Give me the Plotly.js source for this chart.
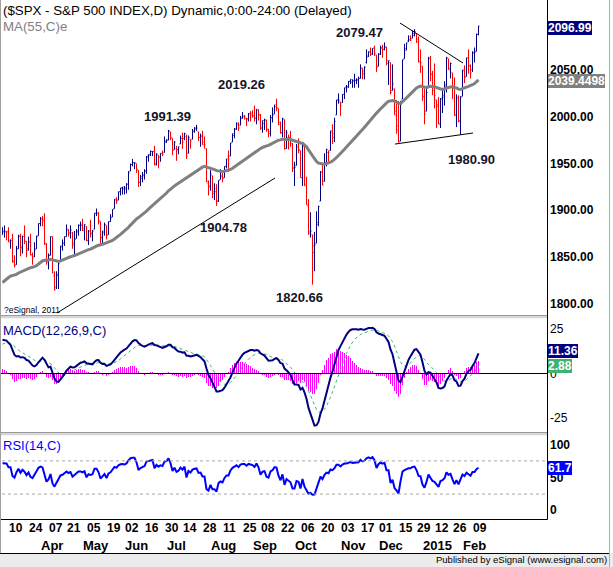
<!DOCTYPE html>
<html><head><meta charset="utf-8">
<script src="https://cdn.plot.ly/plotly-3.0.1.min.js"></script>
<style>html,body{margin:0;padding:0;background:#fff}#chart{width:613px;height:567px}</style>
</head><body><div id="chart"></div>
<script>
// ---- Daily OHLC, $SPX, 6 Mar 2014 .. 13 Feb 2015 (one value per trading day) ----
const open = [
1874,1878,1877,1878,1866,1870,1845,1842,1859,1873,1860,1874,1867,1859,1867,1852,1851,1859,
1873,1886,1891,1891,1864,1845,1852,1872,1830,1818,1831,1846,1861,1865,1872,1879,1876,1876,1865,1870,1877,
1884,1885,1879,1883,1868,1878,1875,1880,1897,1897,1888,1871,1876,1884,1874,1888,1893,1902,1911,1911,1920,
1924,1923,1923,1928,1942,1949,1951,1950,1943,1930,1934,1937,1942,1958,1960,1963,1963,1949,1959,1957,1961,
1962,1974,1975,1984,1977,1965,1966,1965,1971,1977,1977,1979,1961,1976,1976,1985,1988,1984,1978,1980,1973,1966,
1929,1926,1937,1918,1923,1910,1933,1936,1935,1947,1958,1958,1973,1980,1987,1993,1991,1999,2001,1998,1998,
2004,2004,2001,1999,2007,2002,1988,1993,1996,1987,1982,1999,2003,2013,2009,1992,1983,1997,1966,1978,1978,
1971,1945,1948,1971,1964,1935,1968,1926,1905,1877,1874,1855,1865,1885,1910,1941,1931,1951,1962,1964,1983,1978,2002,
2018,2016,2015,2024,2032,2032,2038,2037,2039,2039,2039,2041,2052,2046,2058,2065,2070,2067,2074,
2066,2054,2067,2073,2072,2074,2057,2058,2028,2030,2006,1986,1974,2019,2062,2073,2081,2083,2084,2087,2089,2083,
2059,2054,2022,2006,2031,2063,2046,2031,2018,2013,1992,2020,2021,2034,2062,2050,2047,2032,2002,2019,
1996,2022,2049,2043,2063,2054,2050,2068,2070,2088];
const high = [
1882,1884,1878,1882,1869,1875,1852,1862,1874,1875,1873,1884,1867,1872,1875,1855,1866,1873,
1886,1893,1894,1897,1865,1854,1872,1872,1835,1835,1844,1862,1869,1872,1885,1880,1884,1877,1878,1880,1885,
1888,1891,1885,1883,1879,1890,1879,1897,1902,1898,1888,1878,1887,1884,1888,1896,1901,1912,1914,1920,1924,
1925,1926,1929,1942,1950,1955,1951,1950,1943,1938,1941,1944,1958,1960,1964,1963,1969,1961,1959,1961,1964,
1979,1976,1986,1984,1977,1974,1969,1968,1980,1983,1983,1981,1980,1976,1987,1989,1991.39,1984,1982,1985,1979,1966,
1932,1943,1937,1929,1928,1932,1944,1940,1947,1955,1964,1972,1982,1988,1994,1994,2001,2005,2002,1999,2004,
2006,2007,2012,2008,2008,2003,1996,1998,1997,1987,2002,2010,2013,2019.26,2009,1995,1999,1997,1986,1981,1985,
1972,1952,1971,1977,1964,1971,1970,1936,1912,1898,1874,1877,1899,1905,1942,1950,1961,1966,1964,1985,1992,1999,2018,
2025,2016,2024,2031,2034,2038,2040,2040,2046,2041,2043,2056,2052,2054,2072,2070,2074,2073,2076,
2066,2068,2076,2077,2079.47,2075,2060,2058,2056,2030,2018,2017,2017,2061,2078,2079,2087,2087,2092,2093.6,2089,2086,
2072,2054,2030,2030,2064,2065,2049,2057,2018,2021,2020,2029,2038,2064,2062,2058,2047,2042,2024,2023,
2022,2050,2055,2063,2072,2056,2070,2074,2089,2097];
const low = [
1874,1871,1868,1866,1859,1844,1839,1842,1859,1851,1854,1864,1850,1857,1852,1842,1850,1859,
1873,1883,1883,1863,1842,1837,1852,1833,1814.4,1816,1816,1846,1857,1862,1872,1872,1870,1859,1851,1870,1873,
1878,1878,1868,1867,1863,1871,1867,1880,1894,1885,1863,1865,1873,1869,1874,1888,1893,1902,1907,1911,1916,
1917,1917,1918,1922,1942,1947,1944,1940,1925,1926,1930,1933,1939,1952,1958,1958,1948,1948,1945,1952,1958,
1962,1972,1975,1975,1959,1965,1953,1960,1971,1966,1975,1955,1961,1966,1976,1983,1985,1974,1968,1970,1966,1930,
1916,1921,1913,1911,1904.78,1909,1933,1930,1935,1945,1941,1958,1973,1977,1986,1985,1991,1998,1997,1990,1995,
1995,1999,1995,1992,1996,1986,1983,1986,1984,1978,1979,1994,2003,2006,1991,1982,1978,1965,1966,1965,1968,
1941,1926,1948,1961,1935,1926,1926,1906,1874,1871,1820.66,1835,1865,1883,1910,1927,1931,1947,1951,1964,1971,1973,2002,
2014,2001,2015,2019,2026,2031,2035,2031,2031,2035,2031,2041,2040,2040,2057,2064,2065,2066,2065,
2048,2054,2066,2063,2071,2055,2034,2024,2028,2002,1982,1972.56,1974,2019,2062,2071,2080,2081,2084,2086,2079,2058,
2047,2017,1992,2006,2031,2038,2023,2009,1988,1992,1988,2004,2012,2026,2050,2041,2019,2001,1989,1994,
1980.9,2022,2036,2043,2046,2041,2048,2058,2070,2087];
const close = [
1877,1878,1877,1868,1868,1846,1841,1859,1872,1861,1872,1867,1857,1866,1853,1849,1858,1872,
1886,1891,1889,1865,1845,1852,1872,1833,1815.7,1831,1843,1862,1865,1872,1880,1875,1879,1863,1869,1878,1884,
1884,1881,1885,1868,1878,1876,1878,1897,1897,1889,1871,1878,1885,1873,1888,1892,1901,1912,1910,1920,1924,
1925,1924,1928,1940,1949,1951,1951,1944,1930,1936,1938,1942,1957,1959,1963,1963,1950,1960,1957,1961,1960,
1973,1975,1985,1978,1964,1973,1965,1968,1977,1973,1982,1958,1978,1974,1984,1987,1988,1978,1979,1970,1970,1931,
1925,1939,1920,1920,1910,1932,1937,1934,1947,1955,1955,1972,1982,1987,1992,1988,1998,2000,2000,1997,2003,
2002,2001,1998,2008,2002,1988,1996,1997,1986,1984,1999,2002,2011,2010,1994,1983,1998,1966,1983,1978,1972,
1946,1946,1968,1965,1935,1969,1928,1906,1875,1878,1862,1863,1887,1904,1941,1927,1951,1965,1962,1985,1982,1995,2018,
2018,2012,2024,2031,2032,2038,2040,2038,2039,2040,2041,2052,2049,2053,2064,2069,2067,2073,2068,
2053,2067,2074,2072,2075,2060,2060,2026,2035,2002,1990,1973,2013,2061,2071,2079,2082,2082,2089,2091,2080,2059,
2058,2021,2003,2026,2062,2045,2028,2023,2011,1993,2019,2023,2032,2063,2052,2057,2030,2002,2021,1995,
2021,2050,2042,2063,2055,2047,2069,2069,2088,2096.99];

// indicator starting states at the first bar
const MA_SEED = 1823;          // MA(55,C)e
const EMA12_SEED = 1862, EMA26_SEED = 1843, SIGNAL_SEED = 16.5;
const RSI_GAIN_SEED = 7.0, RSI_LOSS_SEED = 3.4;

// axis / tick labels
const dayTickIdx  = [2,12,22,31,41,51,60,70,80,89,99,109,119,128,138,148,158,168,178,187,197,206,215,224,234];
const dayTickText = ['10','24','07','21','05','19','02','16','30','14','28','11','25','08','22','06','20','03','17','01','15','29','12','26','09'];
const monthTickIdx  = [18,39,60,81,103,124,145,168,187,209,229];
const monthTickText = ['Apr','May','Jun','Jul','Aug','Sep','Oct','Nov','Dec','2015','Feb'];
const priceTicks = [2050,2000,1950,1900,1850,1800];
const macdTicks = [25,0,-25];
const rsiTicks = [100,50,0];
// last-value tags shown on the right scale
const lastPrice = 2096.99, lastMA = 2039.4498, lastMACD = 11.36, lastHist = 2.88, lastRSI = 61.7;
// marked highs / lows
const markText = ['1991.39','2019.26','2079.47','1904.78','1820.66','1980.90'];

// ---- indicators ----
const idx = close.map((_, i) => i);
function ema(src, n, seed) {
  const k = 2 / (n + 1), out = [seed];
  for (let i = 1; i < src.length; i++) out.push(out[i-1] + k * (src[i] - out[i-1]));
  return out;
}
const ma55 = ema(close, 55, MA_SEED);
const e12 = ema(close, 12, EMA12_SEED), e26 = ema(close, 26, EMA26_SEED);
const macd = e12.map((v, i) => v - e26[i]);
const signal = ema(macd, 9, SIGNAL_SEED);
const hist = macd.map((v, i) => v - signal[i]);
const rsi = [];
{ let g = RSI_GAIN_SEED, l = RSI_LOSS_SEED;
  rsi.push(100 - 100 / (1 + g / l));
  for (let i = 1; i < close.length; i++) {
    const d = close[i] - close[i-1];
    g = (g * 13 + Math.max(d, 0)) / 14; l = (l * 13 + Math.max(-d, 0)) / 14;
    rsi.push(100 - 100 / (1 + g / l));
  } }

// ---- layout helpers (pixel -> paper) ----
const W = 613, H = 567;
const px = x => x / W, py = y => 1 - y / H;
const FONT = 'Liberation Sans, Arial, sans-serif';
const XR = [-0.25, 272.25];
const xdom = [px(2), px(547)];

const traces = [
  {type:'ohlc', x: idx, open, high, low, close, xaxis:'x', yaxis:'y', tickwidth:0.5, hoverinfo:'skip',
   increasing:{line:{color:'#000080', width:1}}, decreasing:{line:{color:'#ff0000', width:1}}},
  {type:'scatter', mode:'lines', x: idx, y: ma55, xaxis:'x', yaxis:'y', line:{color:'#808080', width:3}, hoverinfo:'skip'},
  {type:'bar', x: idx, y: hist, width:0.5, xaxis:'x2', yaxis:'y2', marker:{color:'#ff00ff', line:{width:0}}, hoverinfo:'skip'},
  {type:'scatter', mode:'lines', x: idx, y: signal, xaxis:'x2', yaxis:'y2', line:{color:'#3cb371', width:1, dash:'dot'}, hoverinfo:'skip'},
  {type:'scatter', mode:'lines', x: idx, y: macd, xaxis:'x2', yaxis:'y2', line:{color:'#000080', width:2}, hoverinfo:'skip'},
  {type:'scatter', mode:'lines', x: idx, y: rsi, xaxis:'x3', yaxis:'y3', line:{color:'#0000ff', width:2}, hoverinfo:'skip'}
];

const ann = [];
const txt = (x, y, text, o = {}) => ann.push(Object.assign({xref:'paper', yref:'paper', x: px(x), y: py(y), text,
  showarrow:false, xanchor:'left', yanchor:'middle', borderpad:0, borderwidth:0,
  font:{family:FONT, size:12, color:'#000'}}, o));

txt(3, 10, '($SPX - S&P 500 INDEX,D) Dynamic,0:00-24:00 (Delayed)', {font:{family:FONT, size:13.3, color:'#000'}});
txt(3, 26, 'MA(55,C)e', {font:{family:FONT, size:13.3, color:'#808080'}});
txt(3, 330, 'MACD(12,26,9,C)', {font:{family:FONT, size:13, color:'#000080'}});
txt(3, 445, 'RSI(14,C)', {font:{family:FONT, size:13, color:'#0000ff'}});
txt(4, 310, '?eSignal, 2011', {font:{family:FONT, size:8.5, color:'#000'}});
txt(607, 559, 'Published by eSignal (www.esignal.com)', {xanchor:'right', font:{family:FONT, size:9.5, color:'#000'}});

// marked values
const markPos = [[167,117],[241,84],[359,33],[223,227],[299.5,297],[471,159]];
markText.forEach((t, i) => txt(markPos[i][0], markPos[i][1], '<b>' + t + '</b>', {xanchor:'center', font:{family:FONT, size:13, color:'#141428'}}));

// right scales
priceTicks.forEach(v => ann.push({xref:'paper', yref:'y', x: px(548), y: v, text:'<b>' + v.toFixed(2) + '</b>', showarrow:false,
  xanchor:'left', yanchor:'middle', font:{family:FONT, size:12, color:'#000'}}));
macdTicks.forEach(v => ann.push({xref:'paper', yref:'y2', x: px(548), y: v, text: String(v), showarrow:false,
  xanchor:'left', yanchor:'middle', font:{family:FONT, size:12, color:'#000'}}));
rsiTicks.forEach(v => ann.push({xref:'paper', yref:'y3', x: px(548), y: v, text:'<b>' + v + '</b>', showarrow:false,
  xanchor:'left', yanchor: v === 100 ? 'top' : (v === 0 ? 'bottom' : 'middle'), font:{family:FONT, size:12, color:'#000'}}));

const tag = (yref, v, text, bg, ys) => ann.push({xref:'paper', yref, x: px(548), y: v, yshift: ys, text:'<b>' + text + '</b>',
  showarrow:false, xanchor:'left', yanchor:'middle', bgcolor:bg, borderpad:0, borderwidth:0,
  font:{family:FONT, size:12, color:'#fff'}});
tag('y', lastMA, String(lastMA), '#808080', -1.5);
tag('y', lastPrice, lastPrice.toFixed(2), '#000080', -2);
tag('y2', lastHist, lastHist.toFixed(2), '#3cb371', 2);
tag('y2', lastMACD, lastMACD.toFixed(2), '#000080', 2);
tag('y3', lastRSI, lastRSI.toFixed(1), '#0000ff', 0);

// date axis
dayTickIdx.forEach((d, i) => ann.push({xref:'x3', yref:'paper', x: d, y: py(528), text:'<b>' + dayTickText[i] + '</b>',
  showarrow:false, xanchor:'left', yanchor:'middle', font:{family:FONT, size:12, color:'#000'}}));
monthTickIdx.forEach((d, i) => ann.push({xref:'x3', yref:'paper', x: d, y: py(545), text:'<b>' + monthTickText[i] + '</b>',
  showarrow:false, xanchor:'left', yanchor:'middle', font:{family:FONT, size:13, color:'#000'}}));

// trend lines drawn on the price panel [idx, price]
const trendLines = [
  [[27.25, 1790.4], [136.25, 1934.6]],
  [[198.75, 2100.2], [230.25, 2057.5]],
  [[196.25, 1970.9], [235.25, 1982.7]]
];

const shapes = [];
trendLines.forEach(l => shapes.push({type:'line', xref:'x', yref:'y', x0:l[0][0], y0:l[0][1], x1:l[1][0], y1:l[1][1], line:{color:'#000', width:1}}));
// MACD zero line, RSI bands
shapes.push({type:'line', xref:'paper', yref:'y2', x0: px(0), x1: px(547), y0:0, y1:0, line:{color:'#000', width:1}});
[70, 30].forEach(v => shapes.push({type:'line', xref:'paper', yref:'y3', x0: px(2), x1: px(547), y0:v, y1:v, line:{color:'#a8a8a8', width:1, dash:'dot'}}));
// frame pieces
const pline = (x0, y0, x1, y1, c, w = 1) => shapes.push({type:'line', xref:'paper', yref:'paper', x0: px(x0), y0: py(y0), x1: px(x1), y1: py(y1), line:{color:c, width:w}});
const prect = (x0, y0, x1, y1, fill) => shapes.push({type:'rect', xref:'paper', yref:'paper', x0: px(x0), y0: py(y0), x1: px(x1), y1: py(y1), fillcolor: fill, line:{width:0}});
prect(0, 315, 547, 319, '#d6d6d6'); pline(0, 315.5, 547, 315.5, '#9a9a9a'); pline(0, 318.5, 547, 318.5, '#f4f4f4');
prect(0, 432, 547, 436, '#d6d6d6'); pline(0, 432.5, 547, 432.5, '#9a9a9a'); pline(0, 435.5, 547, 435.5, '#f4f4f4');
pline(547.5, 0, 547.5, 519.5, '#000');
pline(0, 519.5, 547.5, 519.5, '#000');
prect(0, 553, 613, 567, '#ececec');
pline(0, 553.5, 610, 553.5, '#000');
pline(0.5, 0, 0.5, 553, '#a0a0a0');
pline(609.5, 0, 609.5, 567, '#b0b0b0');

const ax = (dom, extra) => Object.assign({domain: dom, visible:false, fixedrange:true, showgrid:false, zeroline:false}, extra);
const layout = {
  width: W, height: H, margin:{l:0, r:0, t:0, b:0, pad:0},
  paper_bgcolor:'#fff', plot_bgcolor:'rgba(0,0,0,0)', showlegend:false, bargap:0,
  xaxis:  ax(xdom, {range: XR, anchor:'y', rangeslider:{visible:false}}),
  xaxis2: ax(xdom, {range: XR, anchor:'y2'}),
  xaxis3: ax(xdom, {range: XR, anchor:'y3'}),
  yaxis:  ax([py(315), py(0)], {range:[1788.25, 2124.8], anchor:'x'}),
  yaxis2: ax([py(432), py(320)], {range:[-32.87, 30.06], anchor:'x2'}),
  yaxis3: ax([py(519), py(436)], {range:[0, 100], anchor:'x3'}),
  annotations: ann, shapes: shapes
};
Plotly.newPlot('chart', traces, layout, {displayModeBar:false, staticPlot:true});
</script></body></html>
